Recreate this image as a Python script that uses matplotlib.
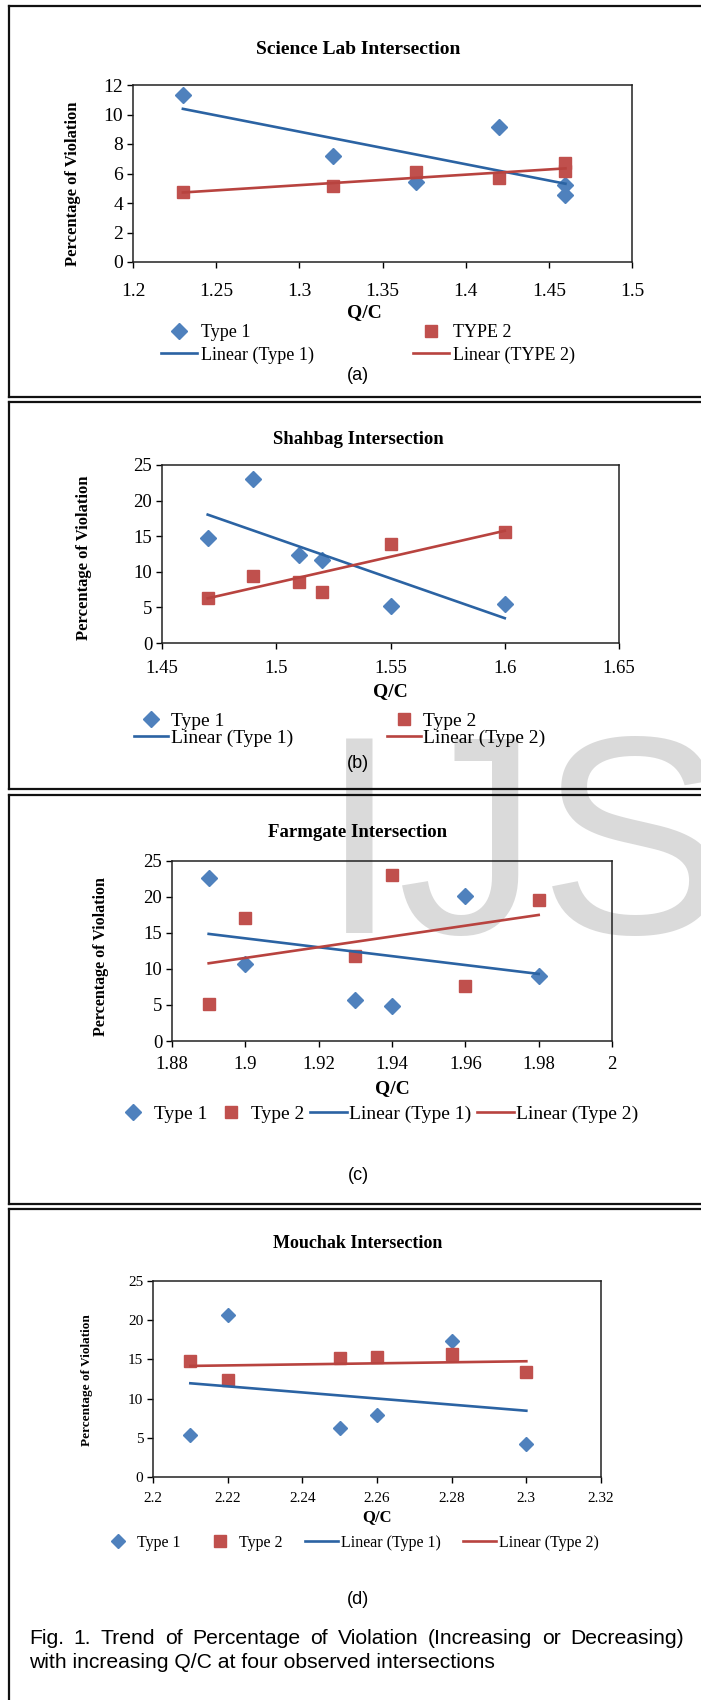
import numpy as np
import matplotlib
matplotlib.use("Agg")
import matplotlib.pyplot as plt
from matplotlib.lines import Line2D
from matplotlib.ticker import MultipleLocator, FuncFormatter

plt.rcParams['font.family'] = ['Liberation Serif', 'DejaVu Serif']

# ---- data ----
# (a) Science Lab
sl_qc = [1.23, 1.32, 1.37, 1.42, 1.46, 1.46]
sl_t1 = [11.33, 7.22, 5.4, 9.12, 5.24, 4.56]
sl_t2 = [4.74, 5.17, 6.09, 5.69, 6.7, 6.14]
# (b) Shahbag
sh_qc = [1.47, 1.49, 1.51, 1.52, 1.55, 1.60]
sh_t1 = [14.72, 23.08, 12.29, 11.68, 5.14, 5.47]
sh_t2 = [6.36, 9.35, 8.5, 7.2, 13.93, 15.65]
# (c) Farmgate
fg_qc = [1.89, 1.90, 1.93, 1.94, 1.96, 1.98]
fg_t1 = [22.69, 10.74, 5.69, 4.81, 20.19, 9.07]
fg_t2 = [5.09, 17.08, 11.76, 23.0, 7.59, 19.63]
# (d) Mouchak
mc_qc = [2.21, 2.22, 2.25, 2.26, 2.28, 2.30]
mc_t1 = [5.31, 20.71, 6.21, 7.87, 17.3, 4.21]
mc_t2 = [14.84, 12.33, 15.22, 15.26, 15.73, 13.35]

titles = ["Science Lab Intersection", "Shahbag Intersection",
          "Farmgate Intersection", "Mouchak Intersection"]
type2_names = ["TYPE 2", "Type 2", "Type 2", "Type 2"]
panel_tags = ["(a)", "(b)", "(c)", "(d)"]
caption = ["Fig. 1. Trend of Percentage of Violation (Increasing or Decreasing)",
           "with increasing Q/C at four observed intersections"]

W, H = 701, 1700
fig = plt.figure(figsize=(W / 100, H / 100), dpi=100)

def fx(px):
    return px / W

def fy(py):
    return 1 - py / H

BLUE_PT = '#4F81BD'
RED_PT = '#C0504D'
BLUE_LN = '#2B63A3'
RED_LN = '#B8433F'

# watermark behind everything
fig.text(fx(320), fy(933), "IJS", fontsize=204, color='#DADADA',
         family='Liberation Sans', va='baseline', ha='left', zorder=-5)

# panel frames (open on the right, cropped page)
frames = [(6, 397), (402, 789), (795, 1204), (1209, None)]
for top, bot in frames:
    fig.add_artist(Line2D([fx(9), fx(9)], [fy(top), fy(bot if bot else H + 5)],
                          transform=fig.transFigure, color='#111111', lw=1.6))
    fig.add_artist(Line2D([fx(9), 1.0], [fy(top), fy(top)],
                          transform=fig.transFigure, color='#111111', lw=1.6))
    if bot:
        fig.add_artist(Line2D([fx(9), 1.0], [fy(bot), fy(bot)],
                              transform=fig.transFigure, color='#111111', lw=1.6))

panels = [
    dict(qc=sl_qc, t1=sl_t1, t2=sl_t2, box=(133, 85, 632, 262),
         xlim=(1.2, 1.5), xstep=0.05, ylim=(0, 12), ystep=2, tick=14, xpad=11,
         title_y=49, title_fs=14, ylab=(74, 183.5), ylab_fs=12,
         xlab=(364, 314), xlab_fs=14, tag_y=376,
         leg=dict(x=161, y=324, ncol=2, fs=13, hl=2.0, htp=0.2, cs=5.5, ls=0.3),
         ms=(8, 9)),
    dict(qc=sh_qc, t1=sh_t1, t2=sh_t2, box=(162, 465, 619, 643),
         xlim=(1.45, 1.65), xstep=0.05, ylim=(0, 25), ystep=5, tick=13.5, xpad=8,
         title_y=440, title_fs=13.5, ylab=(85, 558), ylab_fs=12,
         xlab=(390, 693), xlab_fs=14, tag_y=763,
         leg=dict(x=134, y=712, ncol=2, fs=14, hl=1.75, htp=0.15, cs=4.8, ls=0.0),
         ms=(8, 9)),
    dict(qc=fg_qc, t1=fg_t1, t2=fg_t2, box=(172, 861, 612, 1041),
         xlim=(1.88, 2.0), xstep=0.02, ylim=(0, 25), ystep=5, tick=13.5, xpad=7,
         title_y=832, title_fs=13.5, ylab=(102, 957), ylab_fs=11.5,
         xlab=(392, 1090), xlab_fs=14, tag_y=1175,
         leg=dict(x=115, y=1105, ncol=4, fs=14, hl=1.9, htp=0.08, cs=0.3, ls=0.1),
         ms=(8, 9)),
    dict(qc=mc_qc, t1=mc_t1, t2=mc_t2, box=(153, 1281, 601, 1477),
         xlim=(2.2, 2.32), xstep=0.02, ylim=(0, 25), ystep=5, tick=11, xpad=7,
         title_y=1244, title_fs=13, ylab=(87, 1380), ylab_fs=9.5,
         xlab=(377, 1517), xlab_fs=12, tag_y=1600,
         leg=dict(x=101, y=1535, ncol=4, fs=11.5, hl=2.1, htp=0.15, cs=1.4, ls=0.1),
         ms=(7.5, 8.5)),
]

fmt = FuncFormatter(lambda v, p: f"{round(v, 3):g}")

for i, p in enumerate(panels):
    x0, y0, x1, y1 = p['box']
    ax = fig.add_axes([fx(x0), fy(y1), (x1 - x0) / W, (y1 - y0) / H])
    ax.set_facecolor('none')
    qc = np.array(p['qc'])
    t1 = np.array(p['t1'])
    t2 = np.array(p['t2'])

    h1, = ax.plot(qc, t1, ls='none', marker='D', ms=p['ms'][0], color=BLUE_PT,
                  mec=BLUE_PT, label='Type 1', zorder=3)
    h2, = ax.plot(qc, t2, ls='none', marker='s', ms=p['ms'][1], color=RED_PT,
                  mec=RED_PT, label=type2_names[i], zorder=3)
    # Excel-style linear trendlines
    xs = np.array([qc.min(), qc.max()])
    k1 = np.polyfit(qc, t1, 1)
    k2 = np.polyfit(qc, t2, 1)
    l1, = ax.plot(xs, np.polyval(k1, xs), color=BLUE_LN, lw=1.9,
                  label='Linear (Type 1)', zorder=4)
    l2, = ax.plot(xs, np.polyval(k2, xs), color=RED_LN, lw=1.9,
                  label='Linear (%s)' % type2_names[i], zorder=4)

    ax.set_xlim(*p['xlim'])
    ax.set_ylim(*p['ylim'])
    ax.xaxis.set_major_locator(MultipleLocator(p['xstep']))
    ax.yaxis.set_major_locator(MultipleLocator(p['ystep']))
    ax.xaxis.set_major_formatter(fmt)
    ax.tick_params(direction='out', length=4, width=1, labelsize=p['tick'],
                   top=False, right=False)
    ax.tick_params(axis='x', pad=p['xpad'])
    ax.tick_params(axis='y', pad=3)
    for s in ax.spines.values():
        s.set_color('#222222')
        s.set_linewidth(1.1)

    ax.set_ylabel("Percentage of Violation", fontsize=p['ylab_fs'], fontweight='bold')
    lx, ly = p['ylab']
    ax.yaxis.set_label_coords((lx + p['ylab_fs'] * 0.6 - x0) / (x1 - x0),
                              (y1 - ly) / (y1 - y0))
    ax.set_xlabel("Q/C", fontsize=p['xlab_fs'], fontweight='bold')
    qx, qy = p['xlab']
    ax.xaxis.set_label_coords((qx - x0) / (x1 - x0),
                              -(qy - p['xlab_fs'] * 0.7 - y1) / (y1 - y0))

    fig.text(fx(358), fy(p['title_y']), titles[i], fontsize=p['title_fs'],
             fontweight='bold', ha='center', va='center')
    fig.text(fx(358), fy(p['tag_y']), panel_tags[i], fontsize=13,
             family='Liberation Sans', ha='center', va='center')

    lg = p['leg']
    hs = [h1, l1, h2, l2] if lg['ncol'] == 2 else [h1, h2, l1, l2]
    ax.legend(hs, [h.get_label() for h in hs],
              loc='upper left', bbox_to_anchor=(fx(lg['x']), fy(lg['y'])),
              bbox_transform=fig.transFigure, ncol=lg['ncol'], frameon=False,
              fontsize=lg['fs'], handlelength=lg['hl'], handletextpad=lg['htp'],
              columnspacing=lg['cs'], labelspacing=lg['ls'], borderpad=0,
              borderaxespad=0)

# caption: first line justified between x=29 and x=684, second line ragged
cap_fs = 15.2
renderer = fig.canvas.get_renderer()
words = caption[0].split()
tmp = [fig.text(0, 0, w, fontsize=cap_fs, family='Liberation Sans') for w in words]
widths = [t.get_window_extent(renderer).width for t in tmp]
for t in tmp:
    t.remove()
gap = (684 - 29 - sum(widths)) / (len(words) - 1)
xpos = 29
for w, wd in zip(words, widths):
    fig.text(fx(xpos), fy(1638), w, fontsize=cap_fs, family='Liberation Sans',
             ha='left', va='center')
    xpos += wd + gap
fig.text(fx(29), fy(1663), caption[1], fontsize=cap_fs,
         family='Liberation Sans', ha='left', va='center')

fig.savefig("out.png", dpi=100)
